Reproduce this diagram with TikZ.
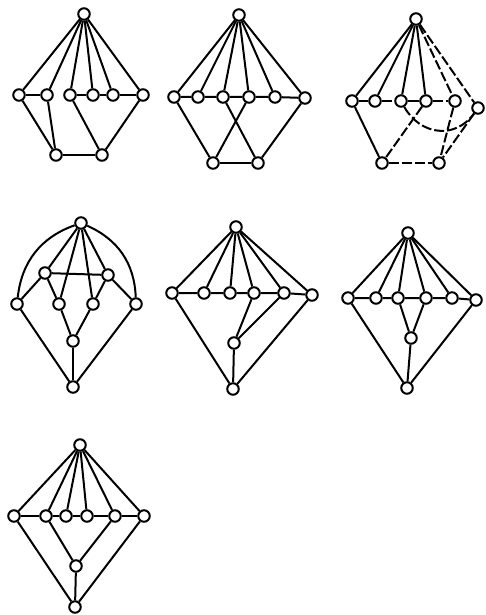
\documentclass[tikz,border=0pt]{standalone}
\begin{document}
\begin{tikzpicture}[x=1pt,y=-1pt,
  vx/.style={circle,draw,fill=white,inner sep=0pt,minimum size=11.5pt,line width=2pt},
  ed/.style={line width=2pt},
  brk/.style={line width=2pt,dash pattern=on 10pt off 3pt}]
\useasboundingbox (0,0) rectangle (485,615);
% ---------- graph 1 ----------
\node[vx] (a0) at (84,14) {};
\node[vx] (a1) at (19,95) {};
\node[vx] (a2) at (47,95) {};
\node[vx] (a3) at (70,95) {};
\node[vx] (a4) at (93,95) {};
\node[vx] (a5) at (113,95) {};
\node[vx] (a6) at (143,95) {};
\node[vx] (a7) at (56,155) {};
\node[vx] (a8) at (102,155) {};
\foreach \i in {1,...,6} \draw[ed] (a0) -- (a\i);
\draw[ed] (a1) -- (a2);
\draw[ed] (a3) -- (a4) -- (a5) -- (a6);
\draw[ed] (a1) -- (a7);
\draw[ed] (a2) -- (a7);
\draw[ed] (a3) -- (a8);
\draw[ed] (a6) -- (a8);
\draw[ed] (a7) -- (a8);
% ---------- graph 2 ----------
\node[vx] (b0) at (239,15) {};
\node[vx] (b1) at (174,97) {};
\node[vx] (b2) at (198,97) {};
\node[vx] (b3) at (223,97) {};
\node[vx] (b4) at (249,97) {};
\node[vx] (b5) at (275,97) {};
\node[vx] (b6) at (305,98) {};
\node[vx] (b7) at (213,163) {};
\node[vx] (b8) at (258,163) {};
\foreach \i in {1,...,6} \draw[ed] (b0) -- (b\i);
\draw[ed] (b1) -- (b2) -- (b3) -- (b4) -- (b5) -- (b6);
\draw[ed] (b1) -- (b7);
\draw[ed] (b4) -- (b7);
\draw[ed] (b3) -- (b8);
\draw[ed] (b6) -- (b8);
\draw[ed] (b7) -- (b8);
% ---------- graph 3 ----------
\node[vx] (c0) at (416,19) {};
\node[vx] (c1) at (352,101) {};
\node[vx] (c2) at (375,101) {};
\node[vx] (c3) at (401,101) {};
\node[vx] (c4) at (426,101) {};
\node[vx] (c5) at (455,101) {};
\node[vx] (c6) at (478,108) {};
\node[vx] (c7) at (382,163) {};
\node[vx] (c8) at (439,163) {};
\foreach \i in {1,...,4} \draw[ed] (c0) -- (c\i);
\draw[brk] (c0) -- (c5);
\draw[brk] (c0) -- (c6);
\draw[ed] (c1) -- (c2);
\draw[brk] (c2) -- (c3);
\draw[ed] (c3) -- (c4);
\draw[brk] (c4) -- (c5);
\draw[ed] (c1) -- (c7);
\draw[brk] (c4) -- (c7);
\draw[brk] (c3) .. controls (420,135) and (455,140) .. (c6);
\draw[brk] (c5) -- (c8);
\draw[brk] (c6) -- (c8);
\draw[brk] (c7) -- (c8);
% ---------- graph 4 ----------
\node[vx] (d0) at (81,223) {};
\node[vx] (d1) at (45,273) {};
\node[vx] (d2) at (108,275) {};
\node[vx] (d3) at (17,304) {};
\node[vx] (d4) at (59,304) {};
\node[vx] (d5) at (93,304) {};
\node[vx] (d6) at (136,304) {};
\node[vx] (d7) at (73,341) {};
\node[vx] (d8) at (73,387) {};
\draw[ed] (d0) to[bend right=32] (d3);
\draw[ed] (d0) to[bend left=32] (d6);
\draw[ed] (d0) -- (d1);
\draw[ed] (d0) -- (d2);
\draw[ed] (d0) -- (d4);
\draw[ed] (d0) -- (d5);
\draw[ed] (d1) -- (d2);
\draw[ed] (d1) -- (d3);
\draw[ed] (d1) -- (d4);
\draw[ed] (d2) -- (d5);
\draw[ed] (d2) -- (d6);
\draw[ed] (d4) -- (d7);
\draw[ed] (d5) -- (d7);
\draw[ed] (d7) -- (d8);
\draw[ed] (d3) -- (d8);
\draw[ed] (d6) -- (d8);
% ---------- graph 5 ----------
\node[vx] (e0) at (236,227) {};
\node[vx] (e1) at (172,293) {};
\node[vx] (e2) at (204,293) {};
\node[vx] (e3) at (230,293) {};
\node[vx] (e4) at (254,293) {};
\node[vx] (e5) at (284,293) {};
\node[vx] (e6) at (312,295) {};
\node[vx] (e7) at (234,343) {};
\node[vx] (e8) at (233,389) {};
\foreach \i in {1,...,6} \draw[ed] (e0) -- (e\i);
\draw[ed] (e1) -- (e2) -- (e3) -- (e4) -- (e5) -- (e6);
\draw[ed] (e4) -- (e7);
\draw[ed] (e5) -- (e7);
\draw[ed] (e7) -- (e8);
\draw[ed] (e1) -- (e8);
\draw[ed] (e6) -- (e8);
% ---------- graph 6 ----------
\node[vx] (f0) at (408,233) {};
\node[vx] (f1) at (348,298) {};
\node[vx] (f2) at (376,298) {};
\node[vx] (f3) at (398,298) {};
\node[vx] (f4) at (426,298) {};
\node[vx] (f5) at (452,298) {};
\node[vx] (f6) at (476,300) {};
\node[vx] (f7) at (411,338) {};
\node[vx] (f8) at (407,388) {};
\foreach \i in {1,...,6} \draw[ed] (f0) -- (f\i);
\draw[ed] (f1) -- (f2) -- (f3) -- (f4) -- (f5) -- (f6);
\draw[ed] (f3) -- (f7);
\draw[ed] (f4) -- (f7);
\draw[ed] (f7) -- (f8);
\draw[ed] (f1) -- (f8);
\draw[ed] (f6) -- (f8);
% ---------- graph 7 ----------
\node[vx] (g0) at (80,445) {};
\node[vx] (g1) at (14,516) {};
\node[vx] (g2) at (46,516) {};
\node[vx] (g3) at (66,516) {};
\node[vx] (g4) at (87,516) {};
\node[vx] (g5) at (115,516) {};
\node[vx] (g6) at (144,516) {};
\node[vx] (g7) at (76,566) {};
\node[vx] (g8) at (75,607) {};
\foreach \i in {1,...,6} \draw[ed] (g0) -- (g\i);
\draw[ed] (g1) -- (g2) -- (g3) -- (g4) -- (g5) -- (g6);
\draw[ed] (g2) -- (g7);
\draw[ed] (g5) -- (g7);
\draw[ed] (g7) -- (g8);
\draw[ed] (g1) -- (g8);
\draw[ed] (g6) -- (g8);
\end{tikzpicture}
\end{document}
